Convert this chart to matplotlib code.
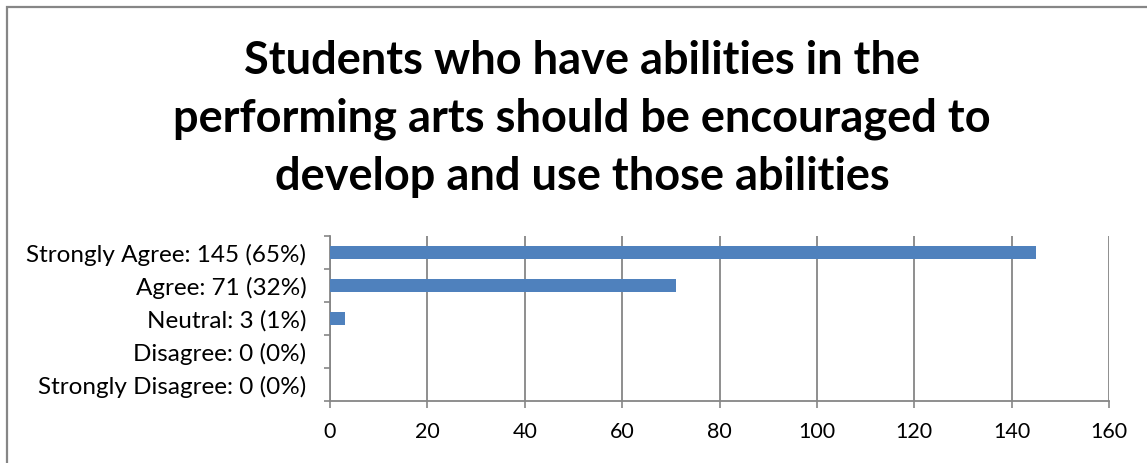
import matplotlib.pyplot as plt
from matplotlib.patches import Rectangle

plt.rcParams['font.family'] = ['Lato', 'DejaVu Sans']

categories = ['Strongly Agree: 145 (65%)', 'Agree: 71 (32%)', 'Neutral: 3 (1%)',
              'Disagree: 0 (0%)', 'Strongly Disagree: 0 (0%)']
counts = [145, 71, 3, 0, 0]
xticks = [0, 20, 40, 60, 80, 100, 120, 140, 160]
title = ('Students who have abilities in the\n'
         'performing arts should be encouraged to\n'
         'develop and use those abilities')

grey = '#868686'

fig = plt.figure(figsize=(11.47, 4.63), dpi=100)
ax = fig.add_axes([0.2877, 0.1339, 0.9669 - 0.2877, 0.4903 - 0.1339])

# chart frame (only the top and left edges fall inside the image)
fig.patches.append(Rectangle((7 / 1147, -0.1), 1.2, 1 - 7 / 463 + 0.1,
                             transform=fig.transFigure, fill=False,
                             edgecolor=grey, linewidth=1.6))

ypos = range(len(categories))
ax.barh(ypos, counts, height=0.37, color='#4F81BD', zorder=3)

ax.set_xlim(0, 160)
ax.set_ylim(len(categories) - 0.5, -0.5)
ax.set_xticks(xticks)
ax.set_xticklabels([str(t) for t in xticks], fontsize=15.5)
ax.tick_params(axis='x', direction='out', length=5, width=1.2, color=grey, pad=10)

# boundary ticks between categories, labels on minor ticks at bar centres
ax.set_yticks([i - 0.5 for i in range(len(categories) + 1)])
ax.set_yticklabels([])
ax.set_yticks(list(ypos), minor=True)
ax.set_yticklabels(categories, minor=True, fontsize=17.5)
ax.tick_params(axis='y', which='major', direction='out', length=4.5, width=1.2, color=grey)
ax.tick_params(axis='y', which='minor', length=0, pad=17)

ax.grid(axis='x', color=grey, linewidth=1.3, zorder=0)
ax.set_axisbelow(True)
for side in ('top', 'right'):
    ax.spines[side].set_visible(False)
for side in ('left', 'bottom'):
    ax.spines[side].set_color(grey)
    ax.spines[side].set_linewidth(1.3)

fig.text(582 / 1147, 1 - 119 / 463, title, ha='center', va='center',
         fontsize=32.5, fontweight='bold', linespacing=1.45)

fig.savefig('out.png', dpi=100)
